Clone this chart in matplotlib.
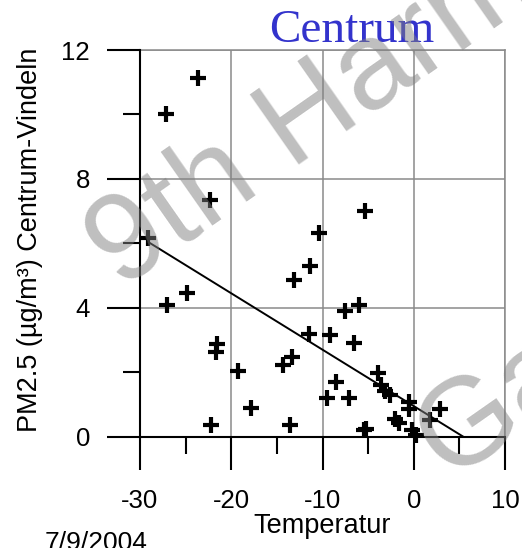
import matplotlib
matplotlib.use("Agg")
import matplotlib.pyplot as plt

# Daily means: outdoor temperature (deg C) vs PM2.5 difference Centrum - Vindeln
temperature = [-23.6, -27.2, -22.3, -5.3, -10.4, -11.4, -13.1, -29.1, -24.9, -27.0,
               -6.0, -7.5, -11.5, -9.2, -6.5, -21.6, -21.7, -13.3, -14.3, -19.3,
               -3.9, -8.5, -3.6, -3.1, -2.6, -9.5, -7.1, -0.5, -0.5, 2.9,
               -17.8, -2.1, -1.6, 1.8, -22.2, -13.6, -5.5, -5.2, -0.2, 0.3]
pm25_diff = [11.13, 10.02, 7.35, 7.0, 6.32, 5.3, 4.87, 6.16, 4.45, 4.09,
             4.09, 3.9, 3.18, 3.16, 2.9, 2.88, 2.64, 2.48, 2.23, 2.05,
             1.97, 1.71, 1.6, 1.42, 1.3, 1.21, 1.21, 1.09, 0.85, 0.85,
             0.88, 0.54, 0.42, 0.52, 0.36, 0.36, 0.21, 0.25, 0.21, 0.05]

# Linear regression line
fit_slope = -0.175
fit_intercept = 0.95
fit_x_range = [-29.1, 10.0]

x_major = [-30, -20, -10, 0, 10]
x_minor = [-25, -15, -5, 5]
y_major = [0, 4, 8, 12]
y_minor = [2, 6, 10]

W, H = 522, 548
fig = plt.figure(figsize=(W / 100, H / 100), dpi=100)
ax_l, ax_r, ax_t, ax_b = 140, 505, 50, 436.7
ax = fig.add_axes([ax_l / W, 1 - ax_b / H, (ax_r - ax_l) / W, (ax_b - ax_t) / H])

sans = "Liberation Sans"
ax.set_xlim(-30, 10)
ax.set_ylim(0, 12)
ax.set_xticks(x_major)
ax.set_xticks(x_minor, minor=True)
ax.set_yticks(y_major)
ax.set_yticks(y_minor, minor=True)
ax.set_xticklabels([str(v) for v in x_major], family=sans, fontsize=18.5)
ax.set_yticklabels([str(v) for v in y_major], family=sans, fontsize=18.5)
ax.tick_params(axis="both", which="major", direction="out", length=24, width=1.5, color="black")
ax.tick_params(axis="both", which="minor", direction="out", length=12, width=1.5, color="black")
ax.tick_params(axis="x", which="major", pad=14)
ax.tick_params(axis="y", which="major", pad=12)

ax.grid(True, which="major", color="#8a8a8a", linewidth=1.1)
ax.set_axisbelow(True)
for side in ("left", "bottom"):
    ax.spines[side].set_color("black")
    ax.spines[side].set_linewidth(1.5)
    ax.spines[side].set_zorder(4)
for side in ("top", "right"):
    ax.spines[side].set_color("#8a8a8a")
    ax.spines[side].set_linewidth(1.1)

# regression line
xs = fit_x_range
ys = [fit_intercept + fit_slope * x for x in xs]
ax.plot(xs, ys, color="black", linewidth=1.4, zorder=5)

# observations
ax.plot(temperature, pm25_diff, linestyle="none", marker="+", markersize=11.5,
        markeredgewidth=3.0, color="black", clip_on=False, zorder=6)

ax.set_xlabel("Temperatur", family=sans, fontsize=19.5, va="baseline")
ax.xaxis.set_label_coords(0.5, -(533 - ax_b) / (ax_b - ax_t))
ax.set_ylabel("PM2.5 (µg/m³) Centrum-Vindeln", family=sans, fontsize=19.5, va="center")
ax.yaxis.set_label_coords(-(ax_l - 30) / (ax_r - ax_l), 0.51)

fig.text(352 / W, 1 - 42 / H, "Centrum", family="Liberation Serif", fontsize=34,
         color="#3333cc", ha="center", va="baseline")
fig.text(45 / W, 1 - 550 / H, "7/9/2004", family=sans, fontsize=19,
         ha="left", va="baseline")

# translucent conference watermark
wm = dict(family=sans, fontsize=90, color="#808080", alpha=0.5, rotation=35,
          rotation_mode="anchor", ha="left", va="baseline", zorder=10)
fig.text(120 / W, 1 - 290 / H, "9th Harmo", **wm)
fig.text(448 / W, 1 - 480 / H, "Ga", **wm)

fig.savefig("out.png", dpi=100)
